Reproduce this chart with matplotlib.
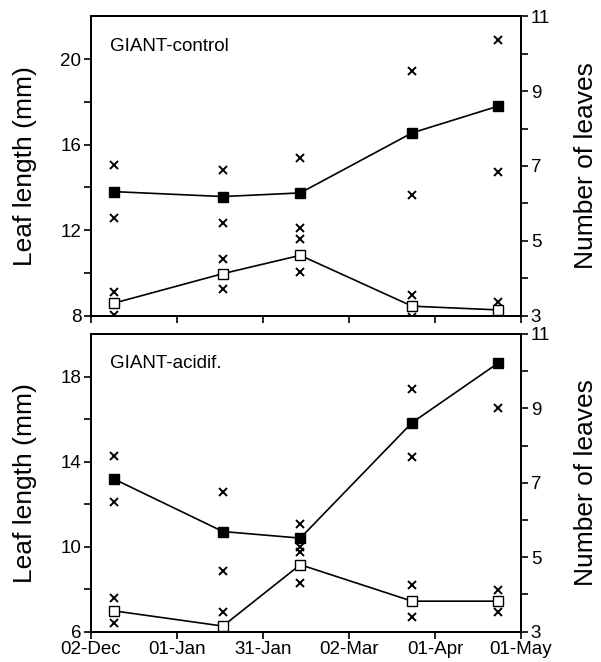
import numpy as np
import matplotlib
matplotlib.use("Agg")
import matplotlib.pyplot as plt
import matplotlib.dates as mdates
from matplotlib.ticker import FixedLocator

plt.rcParams['font.family'] = ['Liberation Sans', 'DejaVu Sans']

# sampling dates (winter 1990/91)
dates = np.array(['1990-12-10', '1991-01-17', '1991-02-13',
                  '1991-03-24', '1991-04-23'], dtype='datetime64[D]')
tick_dates = np.array(['1990-12-02', '1991-01-01', '1991-01-31',
                       '1991-03-02', '1991-04-01', '1991-05-01'],
                      dtype='datetime64[D]')

# GIANT-control
ctrl_len = [13.8, 13.57, 13.74, 16.55, 17.8]
ctrl_len_se = [1.25, 1.25, 1.63, 2.9, 3.1]
ctrl_nl = [3.33, 4.12, 4.61, 3.25, 3.15]
ctrl_nl_se = [0.31, 0.40, 0.45, 0.30, 0.22]

# GIANT-acidif.
acid_len = [13.18, 10.71, 10.4, 15.83, 18.63]
acid_len_se = [1.09, 1.85, 0.66, 1.6, 2.12]
acid_nl = [3.56, 3.15, 4.8, 3.82, 3.82]
acid_nl_se = [0.34, 0.39, 0.48, 0.43, 0.29]

nl_ticks = [3, 5, 7, 9, 11]

panels = [
    ("GIANT-control", ctrl_len, ctrl_len_se, ctrl_nl, ctrl_nl_se, (8, 22)),
    ("GIANT-acidif.", acid_len, acid_len_se, acid_nl, acid_nl_se, (6, 20)),
]

fig = plt.figure(figsize=(6.01, 6.62), dpi=100)
boxes = [[0.1514, 0.5234, 0.7155, 0.4517], [0.1514, 0.0458, 0.7155, 0.4497]]

for i, (name, ln, ln_se, nl, nl_se, ylim) in enumerate(panels):
    ax = fig.add_axes(boxes[i])
    ax2 = ax.twinx()
    ln = np.array(ln); ln_se = np.array(ln_se)
    nl = np.array(nl); nl_se = np.array(nl_se)

    ax.plot(dates, ln, '-s', color='k', lw=1.2, ms=7, mfc='k', zorder=3)
    ax.plot(dates, ln + ln_se, 'x', color='k', ms=6, mew=1.4)
    ax.plot(dates, ln - ln_se, 'x', color='k', ms=6, mew=1.4)

    ax2.plot(dates, nl, '-s', color='k', lw=1.2, ms=6.5, mfc='white', zorder=3)
    ax2.plot(dates, nl + nl_se, 'x', color='k', ms=6, mew=1.4)
    ax2.plot(dates, nl - nl_se, 'x', color='k', ms=6, mew=1.4)

    ax.set_xlim(tick_dates[0], tick_dates[-1])
    ax.set_ylim(*ylim)
    ax2.set_ylim(3, 11)

    ax.yaxis.set_major_locator(FixedLocator(np.arange(ylim[0], ylim[1] - 1, 4)))
    ax.yaxis.set_minor_locator(FixedLocator(np.arange(ylim[0] + 2, ylim[1] - 1, 4)))
    ax2.yaxis.set_major_locator(FixedLocator(nl_ticks))
    ax2.yaxis.set_minor_locator(FixedLocator([4, 6, 8, 10]))

    ax.set_xticks(tick_dates)
    ax.xaxis.set_major_formatter(mdates.DateFormatter('%d-%b'))
    if i == 0:
        ax.tick_params(axis='x', labelbottom=False)

    for a in (ax, ax2):
        a.tick_params(which='both', direction='out', length=5, width=1.2,
                      labelsize=13.5, pad=2)
        for s in a.spines.values():
            s.set_linewidth(1.4)

    ax.set_ylabel("Leaf length (mm)", fontsize=19, labelpad=17)
    ax2.set_ylabel("Number of leaves", fontsize=19, labelpad=17)
    ax.text(0.045, 0.9, name, transform=ax.transAxes, fontsize=13.5,
            va='center', ha='left')

fig.savefig("out.png", dpi=100)
